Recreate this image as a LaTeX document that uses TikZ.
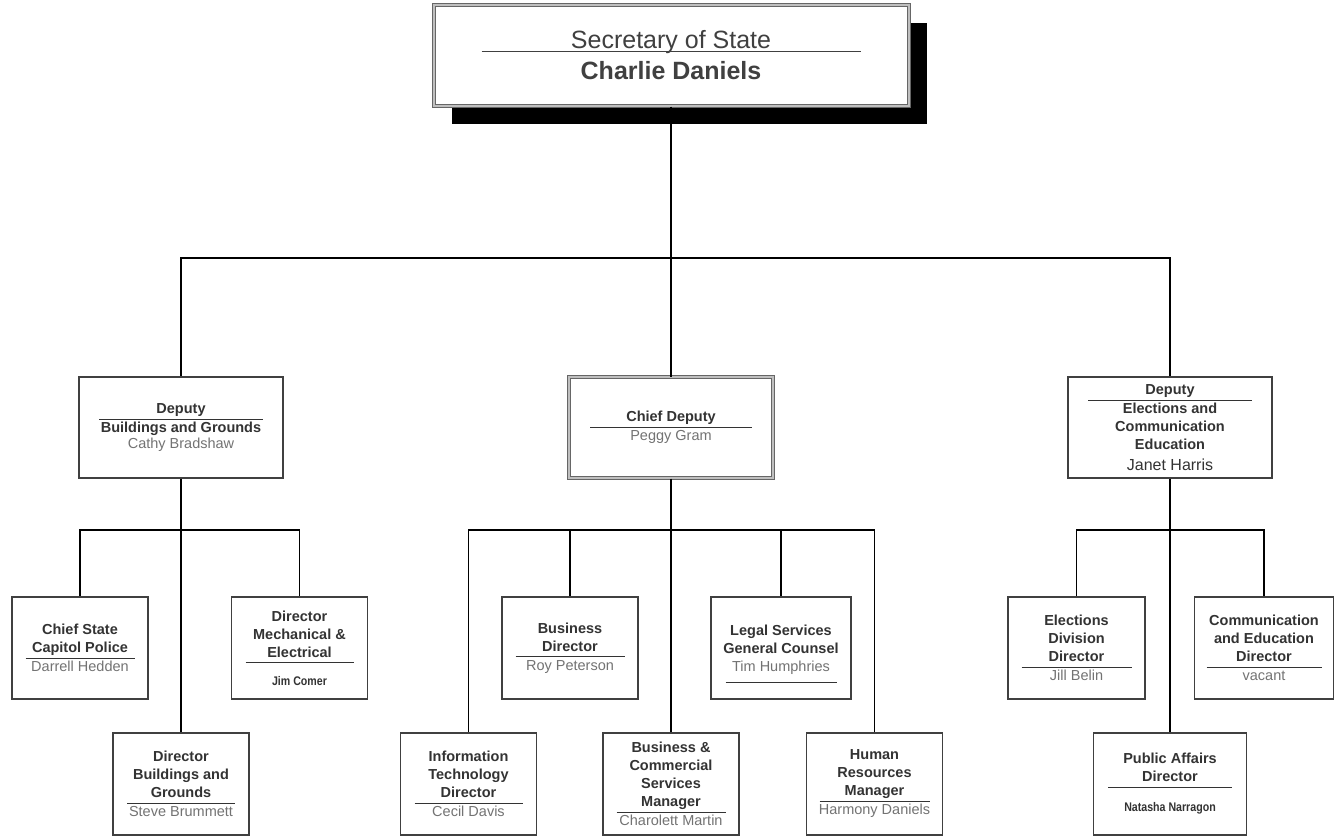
\documentclass[tikz,border=0pt]{standalone}
\usepackage{fontspec}
\setmainfont{Liberation Sans}
\newfontfamily\handfont[FakeStretch=0.85]{Liberation Sans}
\usetikzlibrary{shadows}
\newcommand{\orgline}[1]{\\[-12pt]\rule{#1}{0.8pt}\\[-5pt]}
\newcommand{\staff}[1]{{\mdseries\color{black!55}#1}}
\begin{document}
\begin{tikzpicture}[x=1pt,y=-1pt]
        \tikzstyle{post}=[draw=black!75,line width=1.2pt,fill=white,minimum width=136pt,minimum height=102pt,inner sep=0pt,align=center,font=\fontsize{14.5}{18}\selectfont\bfseries,text=black!80]
        \tikzstyle{deputy}=[post,minimum width=204pt,minimum height=101pt]
        \tikzstyle{framed}=[draw=black!60,double=black!25,double distance=2pt,line width=1pt]
        \tikzstyle{edge}=[draw,line width=1.3pt]
        \useasboundingbox (0,0) rectangle (1335,836);
       \begin{scope}
         \node [post,framed,minimum width=475pt,minimum height=101pt,font=\fontsize{25}{31}\selectfont,text=black!75,drop shadow={shadow xshift=18pt,shadow yshift=-18pt,fill=black,opacity=1}] (sos) at (671,55.5) {Secretary of State\\[-28pt]\rule{379pt}{1pt}\\[-3pt]\textbf{Charlie Daniels}};
         \node [deputy] (bgdep) at (181,427.5) {Deputy\orgline{164pt}Buildings and Grounds\\[-2pt]\staff{Cathy Bradshaw}};
         \node [deputy,framed] (chief) at (671,427.5) {Chief Deputy\orgline{162pt}\staff{Peggy Gram}};
         \node [deputy] (eldep) at (1170,427.5) {Deputy\orgline{164pt}Elections and\\Communication\\Education\\[3pt]{\mdseries\fontsize{16}{18}\selectfont Janet Harris}};
         \node [post] (police) at (80,648) {Chief State\\Capitol Police\orgline{109pt}\staff{Darrell Hedden}};
         \node [post] (mech) at (299.5,648) {Director\\Mechanical \&\\Electrical\\[-12pt]\rule{108pt}{0.8pt}\\[4pt]{\handfont\fontsize{12.5}{14}\selectfont Jim Comer}};
         \node [post] (busdir) at (570,648) {Business\\Director\orgline{109pt}\staff{Roy Peterson}};
         \node [post,minimum width=140pt] (legal) at (781,648) {Legal Services\\General Counsel\\\staff{Tim Humphries}\\[-18pt]\raisebox{-12pt}[0pt][0pt]{\rule{111pt}{0.8pt}}};
         \node [post,minimum width=137pt] (elec) at (1076.5,648) {Elections\\Division\\Director\orgline{110pt}\staff{Jill Belin}};
         \node [post,minimum width=139pt] (comm) at (1264,648) {Communication\\and Education\\Director\orgline{115pt}\staff{vacant}};
         \node [post] (bgdir) at (181,784) {Director\\Buildings and\\Grounds\orgline{108pt}\staff{Steve Brummett}};
         \node [post] (itdir) at (468.5,784) {Information\\Technology\\Director\orgline{108pt}\staff{Cecil Davis}};
         \node [post] (bcs) at (671,784) {Business \&\\Commercial\\Services\\Manager\orgline{109pt}\staff{Charolett Martin}};
         \node [post] (hrm) at (874.5,784) {Human\\Resources\\Manager\orgline{110pt}\staff{Harmony Daniels}};
         \node [post,minimum width=153pt] (pubaff) at (1170,784) {Public Affairs\\Director\\[-12pt]\rule{124pt}{0.8pt}\\[6pt]{\handfont\fontsize{12.5}{14}\selectfont Natasha Narragon}};
         \coordinate (top) at (671,258);
         \coordinate (bgbar) at (181,530);
         \coordinate (chbar) at (671,530);
         \coordinate (elbar) at (1170,530);
         \path[edge] (sos) -- (chief);
         \path[edge] (top) -| (bgdep);
         \path[edge] (top) -| (eldep);
         \path[edge] (bgdep) -- (bgdir);
         \path[edge] (bgbar) -| (police);
         \path[edge] (bgbar) -| (mech);
         \path[edge] (chief) -- (bcs);
         \foreach \n in {itdir,busdir,legal,hrm}
           \path[edge] (chbar) -| (\n);
         \path[edge] (eldep) -- (pubaff);
         \path[edge] (elbar) -| (elec);
         \path[edge] (elbar) -| (comm);
        \end{scope}
      \end{tikzpicture}
\end{document}
